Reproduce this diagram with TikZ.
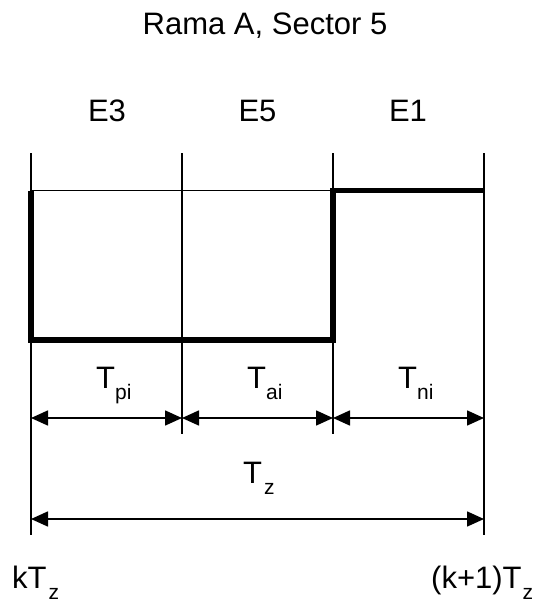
\documentclass[tikz,border=0pt]{standalone}
\usepackage{fontspec}
\setmainfont{Liberation Sans}
\usetikzlibrary{arrows.meta}
\newcommand\mysub[1]{\raisebox{-11pt}{\fontsize{21}{21}\selectfont #1}}
\begin{document}
\begin{tikzpicture}[x=1pt,y=-1pt,
  thinline/.style={line width=1.5pt},
  heavyline/.style={line width=5.5pt, line join=miter},
  dimarrow/.style={line width=1.6pt, {Triangle[length=17pt,width=15pt]}-{Triangle[length=17pt,width=15pt]}},
  lbl/.style={inner sep=0pt, font=\fontsize{31}{31}\selectfont},
]
\useasboundingbox (0,0) rectangle (539,603);
% tick lines
\coordinate (t0) at (31,153);  \coordinate (b0) at (31,535);
\coordinate (t1) at (182,153); \coordinate (b1) at (182,434);
\coordinate (t2) at (333,153); \coordinate (b2) at (333,434);
\coordinate (t3) at (484,153); \coordinate (b3) at (484,535);
\draw[thinline] (t0) -- (b0);
\draw[thinline] (t1) -- (b1);
\draw[thinline] (t2) -- (b2);
\draw[thinline] (t3) -- (b3);
% signal
\coordinate (h0) at (31,190.5);
\coordinate (h2) at (333,190.5);
\coordinate (h3) at (484,190.5);
\coordinate (l0) at (31,340);
\coordinate (l2) at (333,340);
\draw[thinline] (h0) -- (h2);
\draw[heavyline] (h0) -- (l0) -- (l2) -- (h2) -- (h3);
% dimension arrows
\coordinate (d0) at (31,418);
\coordinate (d1) at (182,418);
\coordinate (d2) at (333,418);
\coordinate (d3) at (484,418);
\draw[dimarrow] (d0) -- (d1);
\draw[dimarrow] (d1) -- (d2);
\draw[dimarrow] (d2) -- (d3);
\coordinate (z0) at (31,519);
\coordinate (z3) at (484,519);
\draw[dimarrow] (z0) -- (z3);
% labels
\node[lbl, anchor=base] (title) at (265,34) {Rama A, Sector 5};
\node[lbl, anchor=base] (e3) at (107,121) {E3};
\node[lbl, anchor=base] (e5) at (257.5,121) {E5};
\node[lbl, anchor=base] (e1) at (408,121) {E1};
\node[lbl, anchor=base west] (tpi) at (96,388) {T\mysub{pi}};
\node[lbl, anchor=base west] (tai) at (247,388) {T\mysub{ai}};
\node[lbl, anchor=base west] (tni) at (398,388) {T\mysub{ni}};
\node[lbl, anchor=base west] (tz) at (243,483) {T\hspace{2pt}\mysub{z}};
\node[lbl, anchor=base west] (ktz) at (12,588) {kT\hspace{2pt}\mysub{z}};
\node[lbl, anchor=base west] (k1tz) at (431,588) {(k+1)T\hspace{1pt}\mysub{z}};
\end{tikzpicture}
\end{document}
